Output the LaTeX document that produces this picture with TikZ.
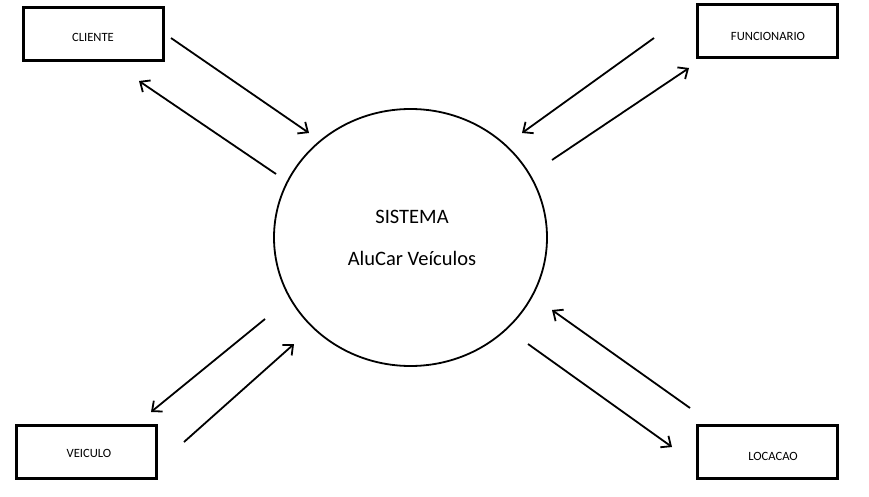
\documentclass[tikz,border=0pt]{standalone}
\usepackage{fontspec}
\setmainfont{Carlito}
\usetikzlibrary{arrows.meta}
\begin{document}
\begin{tikzpicture}[x=1pt,y=-1pt,
  entity/.style={draw,line width=2.4pt,minimum width=140pt,minimum height=53pt,inner sep=0pt,font=\fontsize{12.6}{14}\selectfont},
  flow/.style={line width=1.8pt,-{Straight Barb[length=8pt,width=14pt,line width=1.8pt]}},
  proc/.style={draw,line width=1.8pt,ellipse,minimum width=273pt,minimum height=257pt,inner sep=0pt}]
\useasboundingbox[fill=white] (0,0) rectangle (869,497);
\node[entity] (cli) at (93.5,34) {};
\node[font=\fontsize{12.6}{14}\selectfont] (clit) at (93,37) {CLIENTE};
\node[entity] (fun) at (767.5,31) {};
\node[font=\fontsize{12.6}{14}\selectfont] (funt) at (768,36) {FUNCIONARIO};
\node[entity] (vei) at (86.5,452) {};
\node[font=\fontsize{12.6}{14}\selectfont] (veit) at (89,453) {VEICULO};
\node[entity] (loc) at (767.5,452) {};
\node[font=\fontsize{12.6}{14}\selectfont] (loct) at (773,456) {LOCACAO};
\draw[line width=1.8pt] (410.5,237.5) ellipse [x radius=136.5pt, y radius=128.5pt];
\coordinate (sys) at (410.5,237.5);
\node[font=\fontsize{20.5}{24}\selectfont] (t1) at (412,217) {SISTEMA};
\node[font=\fontsize{20.5}{24}\selectfont] (t2) at (412,258) {AluCar Veículos};
% CLIENTE
\coordinate (a1s) at (171,38); \coordinate (a1e) at (309,133);
\coordinate (a2s) at (276,174); \coordinate (a2e) at (139,81);
\draw[flow] (a1s) -- (a1e);
\draw[flow] (a2s) -- (a2e);
% FUNCIONARIO
\coordinate (b1s) at (654,38); \coordinate (b1e) at (522,133);
\coordinate (b2s) at (552,160); \coordinate (b2e) at (689,68);
\draw[flow] (b1s) -- (b1e);
\draw[flow] (b2s) -- (b2e);
% VEICULO
\coordinate (c1s) at (265,319); \coordinate (c1e) at (151,412);
\coordinate (c2s) at (184,442); \coordinate (c2e) at (294,344);
\draw[flow] (c1s) -- (c1e);
\draw[flow] (c2s) -- (c2e);
% LOCACAO
\coordinate (d1s) at (690,408); \coordinate (d1e) at (552,310);
\coordinate (d2s) at (528,344); \coordinate (d2e) at (672,447);
\draw[flow] (d1s) -- (d1e);
\draw[flow] (d2s) -- (d2e);
\end{tikzpicture}
\end{document}
